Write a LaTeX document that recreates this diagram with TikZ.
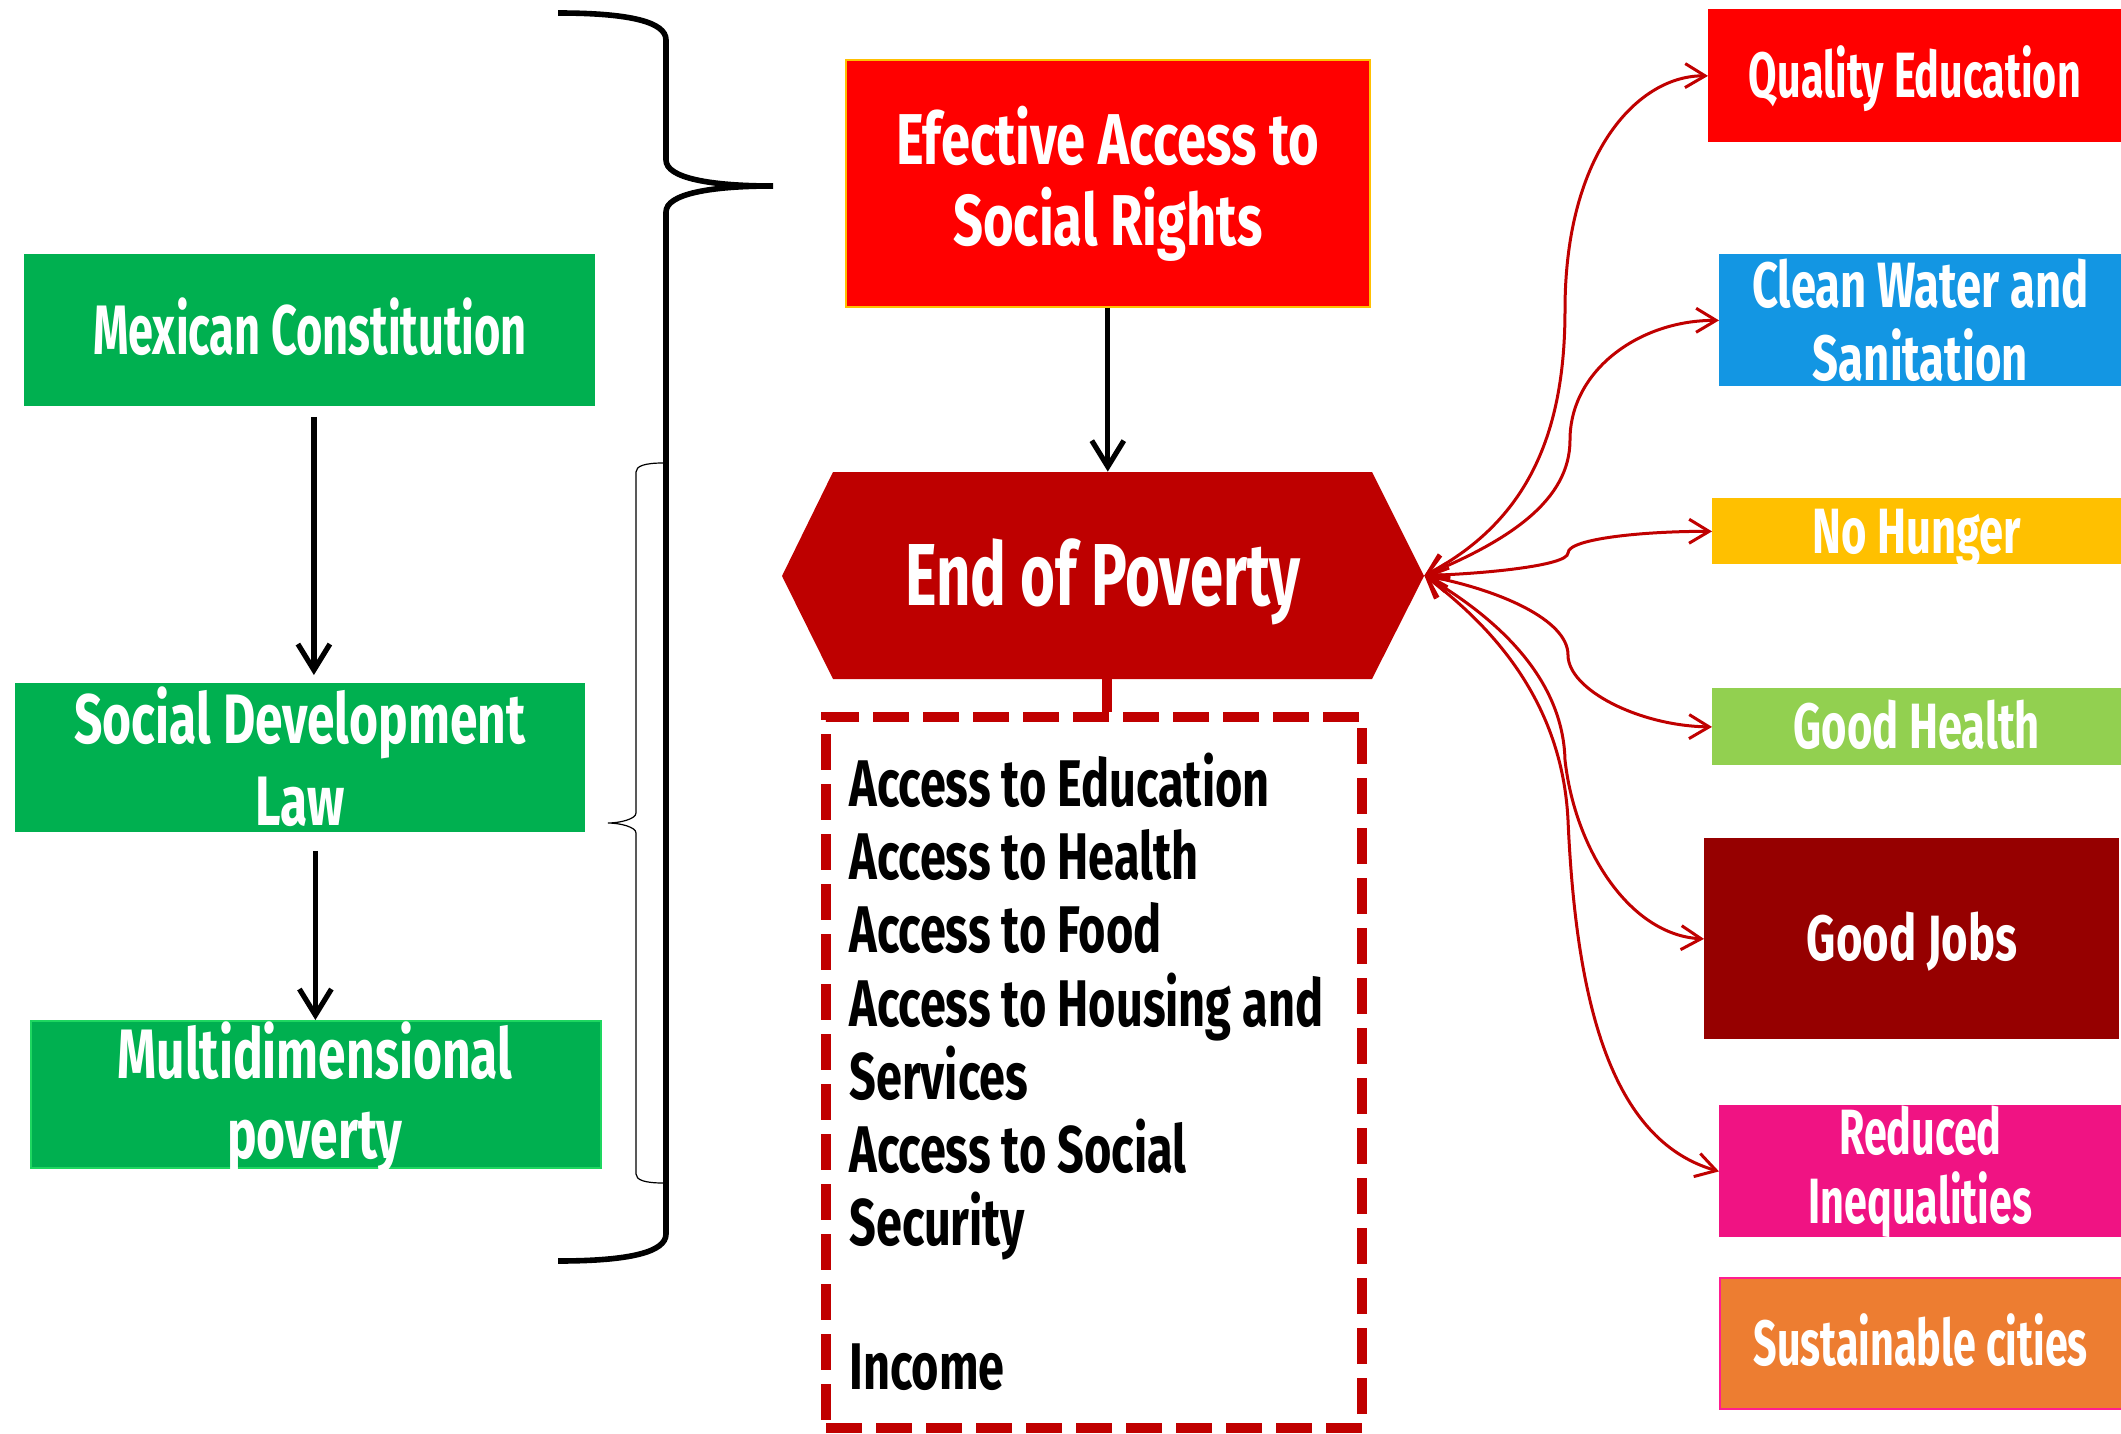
\documentclass[tikz,border=0pt]{standalone}
\usepackage{fontspec}
\newfontfamily\agencyS[FakeStretch=0.645]{Fira Sans}
\newfontfamily\agencyM[FakeStretch=0.68]{Fira Sans}
\newfontfamily\agencyL[FakeStretch=0.71]{Fira Sans}
\newfontfamily\agencyX[FakeStretch=0.73]{Fira Sans}
\usetikzlibrary{arrows.meta}
\definecolor{sdgreen}{HTML}{00B050}
\definecolor{mdborder}{HTML}{1ED760}
\definecolor{efred}{HTML}{FF0000}
\definecolor{efborder}{HTML}{FFC000}
\definecolor{eopred}{HTML}{BE0000}
\definecolor{linkred}{HTML}{C00000}
\definecolor{qered}{HTML}{FF0000}
\definecolor{cwblue}{HTML}{1396E3}
\definecolor{nhyellow}{HTML}{FFC000}
\definecolor{ghgreen}{HTML}{92D050}
\definecolor{gjred}{HTML}{960000}
\definecolor{ripink}{HTML}{F01383}
\definecolor{scorange}{HTML}{ED7D31}
\definecolor{scborder}{HTML}{FF1E90}
\tikzset{
  box/.style={rectangle, inner sep=0pt, align=center, text=white, anchor=north west},
  capbox/.style={box, text height=22pt, text depth=0pt},
  fS/.style={font=\agencyS\bfseries\fontsize{32}{36.5}\selectfont},
  fM/.style={font=\agencyM\bfseries\fontsize{32}{36.5}\selectfont},
  fL/.style={font=\agencyL\bfseries\fontsize{32}{36.5}\selectfont},
  greenbox/.style={box, fill=sdgreen},
  greentext/.style={anchor=base, inner sep=0pt, text=white, font=\agencyL\bfseries\fontsize{35}{40}\selectfont},
  blackarrow/.style={draw=black, line width=2.6pt, -{Straight Barb[length=13pt,width=16pt]}},
  redlink/.style={draw=linkred, line width=1.5pt, {Straight Barb[length=10pt,width=12pt]}-{Straight Barb[length=10pt,width=12pt]}},
  listitem/.style={anchor=base west, inner sep=0pt, text=black, font=\agencyL\bfseries\fontsize{33}{36}\selectfont},
  bracket/.style={draw=black, line width=2.8pt},
  thinbracket/.style={draw=black, line width=0.6pt}
}
\begin{document}
\begin{tikzpicture}[x=0.5pt,y=-0.5pt]
\useasboundingbox (0,0) rectangle (2121,1434);

% left green boxes
\node[greenbox, text height=24pt, text depth=0pt, minimum width=285.5pt, minimum height=76pt,
  font=\agencyS\bfseries\fontsize{35}{40}\selectfont] (mex) at (24,254) {Mexican Constitution};
\node[greenbox, minimum width=285pt, minimum height=74.5pt] (sdl) at (15,683) {};
\node[greentext] (sdl1) at (300,743) {Social Development};
\node[greentext] (sdl2) at (300,825) {Law};
\node[greenbox, draw=mdborder, line width=1pt, minimum width=285pt, minimum height=73.5pt] (mdp) at (30,1020) {};
\node[greentext] (mdp1) at (315,1078) {Multidimensional};
\node[greentext] (mdp2) at (315,1158) {poverty};

\draw[blackarrow, shorten <=5pt, shorten >=4pt] ([xshift=2pt]mex.south) -- ([xshift=2pt]mex.south |- sdl.north);
\draw[blackarrow, shorten <=9pt] ([xshift=7.5pt]sdl.south) -- ([xshift=7.5pt]sdl.south |- mdp.north);

% braces
\draw[bracket] (558,13) .. controls (630,13) and (666,22) .. (666,40) -- (666,160)
  .. controls (666,178) and (710,186) .. (773,186)
  .. controls (710,186) and (666,194) .. (666,212) -- (666,1234)
  .. controls (666,1252) and (630,1261) .. (558,1261);
\draw[thinbracket] (663,463) .. controls (645,463) and (636,466) .. (636,472) -- (636,813)
  .. controls (636,819) and (620,823) .. (608,823)
  .. controls (620,823) and (636,827) .. (636,833) -- (636,1174)
  .. controls (636,1180) and (645,1183) .. (663,1183);

% effective access
\node[box, fill=efred, draw=efborder, line width=0.8pt, minimum width=262pt, minimum height=123.5pt,
  font=\agencyX\bfseries\fontsize{36}{40.5}\selectfont] (efr) at (845,59) {Efective Access to\\Social Rights};

% end of poverty hexagon
\fill[eopred] (782,576) -- (833,472) -- (1372,472) -- (1424,576) -- (1372,679) -- (833,679) -- cycle;
\node[rectangle, inner sep=0pt, minimum width=321pt, minimum height=103.5pt, text=white,
  text height=30.3pt, text depth=0pt,
  font=\agencyM\bfseries\fontsize{44}{48}\selectfont] (eop) at (1103,575.5) {End of Poverty};

\draw[blackarrow] (efr.south) -- (efr.south |- eop.north);

% dashed box
\node[rectangle, draw=linkred, line width=5pt, dash pattern=on 18pt off 7pt, minimum width=268pt, minimum height=355.5pt] (dbox) at (1094,1072.5) {};
\draw[draw=linkred, line width=5pt] ([xshift=2pt]eop.south) -- ([xshift=2pt]eop.south |- dbox.north);

\node[listitem] (l1) at (849,806) {Access to Education};
\node[listitem] (l2) at (849,879) {Access to Health};
\node[listitem] (l3) at (849,952) {Access to Food};
\node[listitem] (l4) at (849,1026) {Access to Housing and};
\node[listitem] (l5) at (849,1099) {Services};
\node[listitem] (l6) at (849,1172) {Access to Social};
\node[listitem] (l7) at (849,1245) {Security};
\node[listitem] (l8) at (849,1389) {Income};

% right column
\node[capbox, fS, fill=qered, minimum width=206.5pt, minimum height=66.5pt] (qe) at (1708,9) {Quality Education};
\node[box, fL, fill=cwblue, minimum width=201pt, minimum height=66pt] (cw) at (1719,254) {Clean Water and\\Sanitation};
\node[capbox, fM, fill=nhyellow, minimum width=204.5pt, minimum height=33pt] (nh) at (1712,498) {No Hunger};
\node[capbox, fM, fill=ghgreen, minimum width=204.5pt, minimum height=38.5pt] (gh) at (1712,688) {Good Health};
\node[capbox, fL, fill=gjred, minimum width=207.5pt, minimum height=100.5pt] (gj) at (1704,838) {Good Jobs};
\node[box, fill=ripink, minimum width=201pt, minimum height=66pt, font=\agencyS\bfseries\fontsize{32}{34.5}\selectfont] (ri) at (1719,1105) {Reduced\\Inequalities};
\node[capbox, fS, fill=scorange, draw=scborder, line width=0.8pt, minimum width=201pt, minimum height=65.5pt] (sc) at (1719,1277) {Sustainable cities};

% red links
\draw[redlink] (eop.east) .. controls (1530,520) and (1565,430) .. (1565,310)
  .. controls (1565,150) and (1640,75) .. (qe.west);
\draw[redlink] (eop.east) .. controls (1510,540) and (1570,500) .. (1570,440)
  .. controls (1570,370) and (1640,320) .. (cw.west);
\draw[redlink] (eop.east) .. controls (1480,574) and (1568,566) .. (1568,553)
  .. controls (1568,538) and (1650,531) .. (nh.west);
\draw[redlink] (eop.east) .. controls (1500,590) and (1568,620) .. (1568,655)
  .. controls (1568,690) and (1640,726) .. (gh.west);
\draw[redlink] (eop.east) .. controls (1500,620) and (1563,680) .. (1565,760)
  .. controls (1575,850) and (1630,935) .. (gj.west);
\draw[redlink] (eop.east) .. controls (1490,625) and (1562,700) .. (1568,820)
  .. controls (1576,1000) and (1610,1140) .. (ri.west);
\end{tikzpicture}
\end{document}
